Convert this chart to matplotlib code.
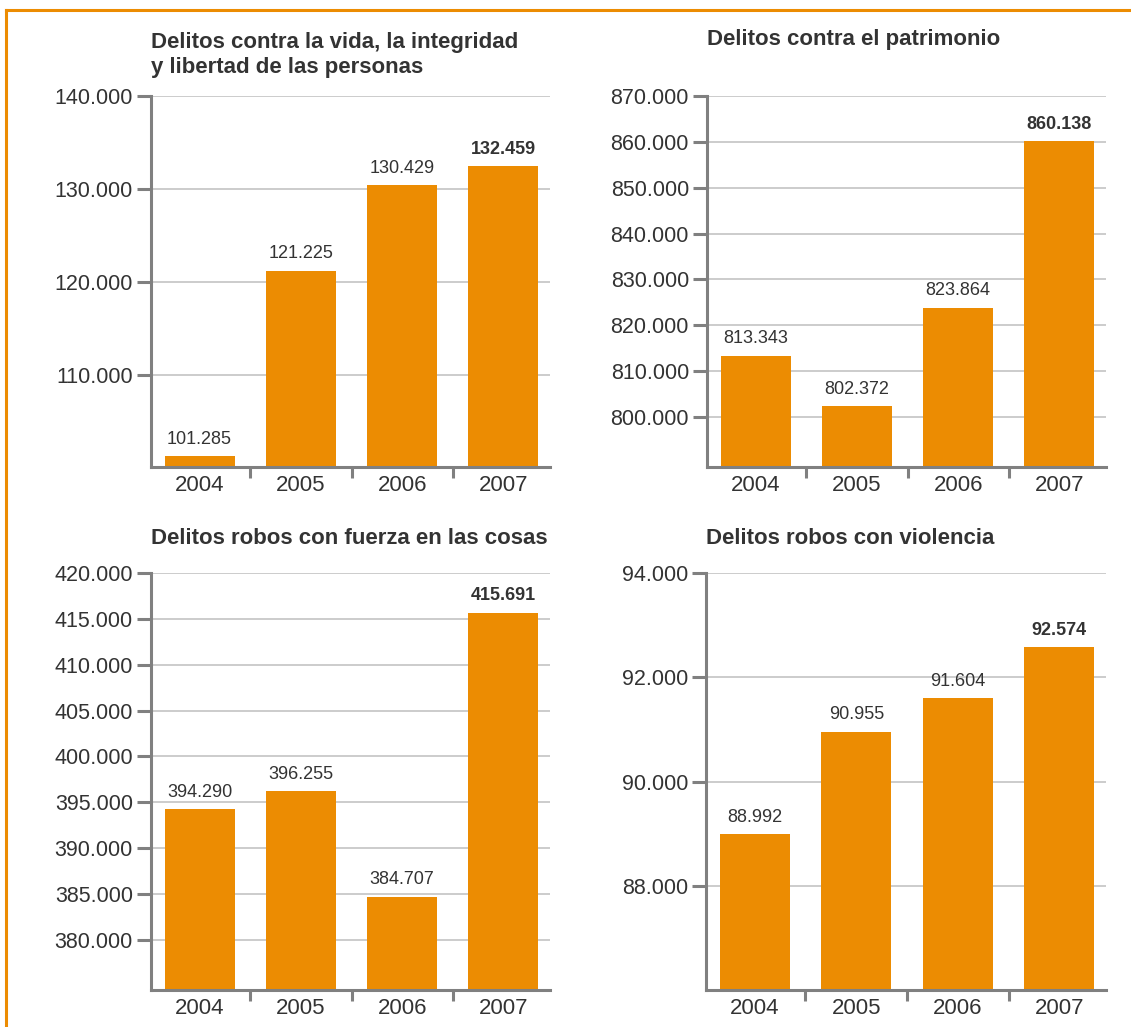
import matplotlib
matplotlib.use("Agg")
import matplotlib.pyplot as plt
from matplotlib.lines import Line2D
from matplotlib.ticker import FuncFormatter

years = ["2004", "2005", "2006", "2007"]

vida = [101285, 121225, 130429, 132459]
patrimonio = [813343, 802372, 823864, 860138]
fuerza = [394290, 396255, 384707, 415691]
violencia = [88992, 90955, 91604, 92574]

titles = [
    "Delitos contra la vida, la integridad\ny libertad de las personas",
    "Delitos contra el patrimonio",
    "Delitos robos con fuerza en las cosas",
    "Delitos robos con violencia",
]
ylims = [(100100, 140000), (789100, 870000), (374550, 420000), (86000, 94000)]
yticks = [
    [110000, 120000, 130000, 140000],
    list(range(800000, 870001, 10000)),
    list(range(380000, 420001, 5000)),
    [88000, 90000, 92000, 94000],
]

ORANGE = "#ec8c02"
GREY = "#808080"
TXT = "#333333"
W, H = 1131, 1027

plt.rcParams["font.family"] = ["Liberation Sans", "DejaVu Sans"]


def fmt(v):
    return f"{v:,.0f}".replace(",", ".")


fig = plt.figure(figsize=(W / 100, H / 100), dpi=100)

# axes boxes in pixels: left, top, right, bottom
boxes = [(151, 96, 550, 467), (707, 96, 1106, 467),
         (151, 573, 550, 990), (706, 573, 1106, 990)]
title_y = [55, 39, 538, 538]
data = [vida, patrimonio, fuerza, violencia]

for i in range(4):
    l, t, r, b = boxes[i]
    ax = fig.add_axes([l / W, 1 - b / H, (r - l) / W, (b - t) / H])
    x = range(len(years))
    bars = ax.bar(x, data[i], width=0.69, color=ORANGE, zorder=2)
    ax.set_xlim(-0.48, 3.46)
    ax.set_ylim(*ylims[i])
    ax.set_yticks(yticks[i])
    ax.yaxis.set_major_formatter(FuncFormatter(lambda v, p: fmt(v)))
    ax.set_xticks(list(x))
    ax.set_xticklabels(years)
    ax.set_xticks([0.5, 1.5, 2.5], minor=True)

    ax.yaxis.grid(True, color="#c8c8c8", lw=1.3)
    ax.set_axisbelow(True)
    for s in ["top", "right"]:
        ax.spines[s].set_visible(False)
    for s in ["left", "bottom"]:
        ax.spines[s].set_color(GREY)
        ax.spines[s].set_linewidth(2.2)

    ax.tick_params(axis="y", length=10, width=2.2, color=GREY, pad=3,
                   labelsize=15.5, labelcolor=TXT)
    ax.tick_params(axis="x", which="major", length=0, pad=6,
                   labelsize=16, labelcolor=TXT)
    ax.tick_params(axis="x", which="minor", length=8, width=2.2, color=GREY)

    labs = ax.bar_label(bars, labels=[fmt(v) for v in data[i]], padding=6,
                        fontsize=13, color=TXT)
    labs[-1].set_fontweight("bold")

    fig.text(l / W, 1 - title_y[i] / H, titles[i], ha="left", va="center",
             fontsize=16, fontweight="bold", color=TXT, linespacing=1.3)

# orange frame top and left
fig.add_artist(Line2D([6 / W, 1], [1 - 10 / H, 1 - 10 / H], color=ORANGE, lw=2.2))
fig.add_artist(Line2D([6 / W, 6 / W], [0, 1 - 10 / H], color=ORANGE, lw=2.2))

fig.savefig("out.png", dpi=100, facecolor="white")
